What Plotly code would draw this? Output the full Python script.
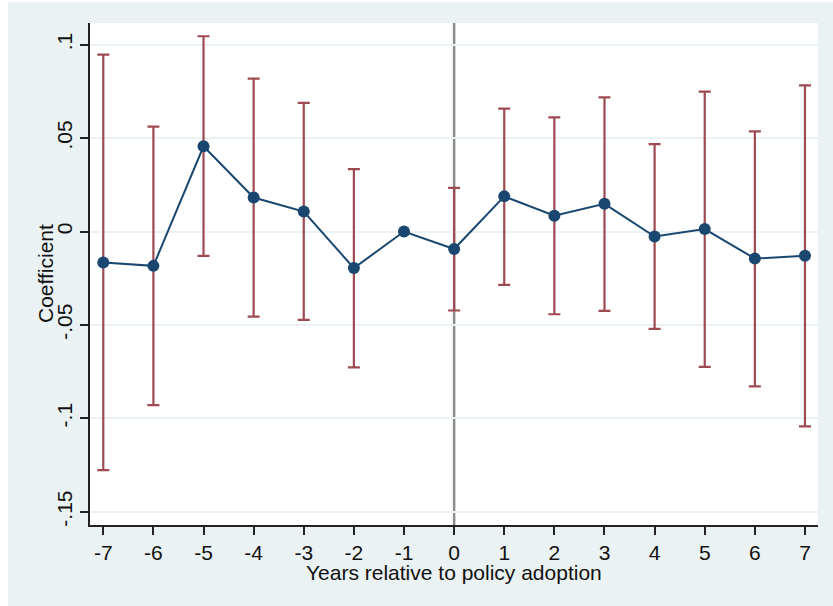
import plotly.graph_objects as go

years = [-7, -6, -5, -4, -3, -2, -1, 0, 1, 2, 3, 4, 5, 6, 7]
coef = [-0.0166, -0.0184, 0.0456, 0.0182, 0.0107, -0.0196, 0.0, -0.0094,
        0.0188, 0.0084, 0.0148, -0.0027, 0.0013, -0.0145, -0.0130]
ci_upper = [0.0947, 0.0561, 0.1045, 0.0818, 0.0688, 0.0334, 0.0, 0.0233,
            0.0658, 0.0611, 0.0718, 0.0468, 0.0749, 0.0536, 0.0782]
ci_lower = [-0.1277, -0.0929, -0.0130, -0.0456, -0.0473, -0.0727, 0.0, -0.0423,
            -0.0286, -0.0443, -0.0425, -0.0521, -0.0725, -0.0829, -0.1043]
y_tickvals = [-0.15, -0.1, -0.05, 0, 0.05, 0.1]
y_ticktext = ["-.15", "-.1", "-.05", "0", ".05", ".1"]

BG = "#eaf2f3"
NAVY = "#1a476f"
MAROON = "#9e4a52"
FONT = "Liberation Sans, Arial, sans-serif"

err_plus = [u - c for u, c in zip(ci_upper, coef)]
err_minus = [c - l for c, l in zip(coef, ci_lower)]

fig = go.Figure()
fig.add_trace(go.Scatter(
    x=years, y=coef, mode="markers",
    marker=dict(size=1, color="rgba(0,0,0,0)"),
    error_y=dict(type="data", array=err_plus, arrayminus=err_minus,
                 color=MAROON, thickness=2.2, width=6),
    hoverinfo="skip", showlegend=False,
))
fig.add_trace(go.Scatter(
    x=years, y=coef, mode="lines+markers",
    line=dict(color=NAVY, width=2),
    marker=dict(size=12, color=NAVY),
    showlegend=False,
))

W, H = 833, 606
L, R, T, B = 90, 15, 23, 81
pw, ph = W - L - R, H - T - B

fig.add_shape(type="line", xref="x", yref="paper", x0=0, x1=0, y0=0, y1=1,
              line=dict(color="#8c8c8c", width=2.5), layer="between")
# white strips at outer edges
fig.add_shape(type="rect", xref="paper", yref="paper",
              x0=-L / pw, x1=(-L + 8) / pw, y0=-B / ph, y1=(ph + T) / ph,
              line=dict(width=0), fillcolor="white", layer="below")
fig.add_shape(type="rect", xref="paper", yref="paper",
              x0=-L / pw, x1=(pw + R) / pw, y0=(ph + T - 2) / ph, y1=(ph + T) / ph,
              line=dict(width=0), fillcolor="white", layer="below")

# axis titles as annotations (pixel-placed)
fig.add_annotation(text="Years relative to policy adoption", xref="paper", yref="paper",
                   x=0.5, y=-(572 - 525) / ph, xanchor="center", yanchor="middle",
                   showarrow=False, font=dict(size=21))
fig.add_annotation(text="Coefficient", xref="paper", yref="paper",
                   x=-(90 - 45) / pw, y=0.5, xanchor="center", yanchor="middle",
                   textangle=-90, showarrow=False, font=dict(size=21))

fig.update_layout(
    width=W, height=H,
    margin=dict(l=L, r=R, t=T, b=B, pad=0),
    paper_bgcolor=BG, plot_bgcolor="white",
    font=dict(family=FONT, size=21, color="#111111"),
    xaxis=dict(
        range=[-7.265, 7.26], tickmode="array", tickvals=years,
        ticktext=[str(v) for v in years],
        showgrid=False, zeroline=False,
        showline=True, linecolor="#222222", linewidth=1.5,
        ticks="outside", ticklen=8, tickwidth=1.5, tickcolor="#222222",
    ),
    yaxis=dict(
        range=[-0.1571, 0.1116], tickmode="array", tickvals=y_tickvals,
        ticktext=y_ticktext, tickangle=-90,
        showgrid=True, gridcolor=BG, gridwidth=1.5, zeroline=False,
        showline=True, linecolor="#222222", linewidth=1.5,
        ticks="outside", ticklen=8, tickwidth=1.5, tickcolor="#222222",
    ),
)

fig.write_html("out.html", config={"displayModeBar": False},
               post_script="document.body.style.margin='0px';")
